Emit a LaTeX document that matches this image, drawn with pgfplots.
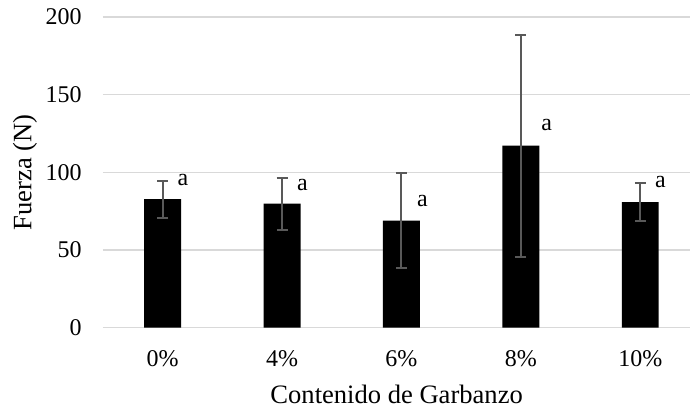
\documentclass[border=0pt]{standalone}
\usepackage{pgfplots}
\pgfplotsset{compat=1.18}
\usepackage{pgfplotstable}
\usepackage{fontspec}
\setmainfont{Liberation Serif}
\definecolor{gridgray}{HTML}{D9D9D9}
\definecolor{errgray}{HTML}{595959}
\pgfplotstableread{
x y err
0 82.8 11.9
1 79.8 16.7
2 68.9 30.5
3 117.2 71.5
4 80.9 12.2
}\datatable
\begin{document}
\fontsize{12}{14}\selectfont
\begin{tikzpicture}
\begin{axis}[
  scale only axis,
  width=294pt, height=155.5pt,
  xmin=-0.5, xmax=4.42,
  ymin=0, ymax=200,
  ytick={0,50,100,150,200},
  xtick={0,1,2,3,4},
  xticklabels={0\%,4\%,6\%,8\%,10\%},
  axis line style={draw=none},
  tick style={draw=none},
  ymajorgrids,
  major grid style={gridgray, line width=0.6pt},
  /pgf/number format/assume math mode=true,
  tick label style={font=\fontsize{12}{14}\selectfont},
  yticklabel style={xshift=-6.5pt},
  xticklabel style={yshift=-7pt},
  xlabel={Contenido de Garbanzo},
  ylabel={Fuerza (N)},
  label style={font=\fontsize{13.3}{15}\selectfont},
  xlabel style={at={(rel axis cs:0.5,0)}, anchor=center, yshift=-33.5pt},
  ylabel style={at={(rel axis cs:0,0.5)}, anchor=center, rotate=0, yshift=39pt},
  clip=false,
]
\addplot[ybar, bar width=18.5pt, fill=black, draw=none,
  error bars/.cd, y dir=both, y explicit,
  error bar style={errgray, line width=1pt},
  error mark options={errgray, line width=1pt, mark size=2.75pt, rotate=90}]
  table[x=x, y=y, y error=err] {\datatable};
\node[font=\fontsize{12}{14}\selectfont] at (axis cs:0.17,95.2) {a};
\node[font=\fontsize{12}{14}\selectfont] at (axis cs:1.17,92) {a};
\node[font=\fontsize{12}{14}\selectfont] at (axis cs:2.175,81.5) {a};
\node[font=\fontsize{12}{14}\selectfont] at (axis cs:3.217,130.3) {a};
\node[font=\fontsize{12}{14}\selectfont] at (axis cs:4.17,93.9) {a};
\coordinate (O) at (rel axis cs:0,0);
\end{axis}
\path (O) ++(-51.5pt,-39.5pt) rectangle ++(345.5pt,203.5pt);
\end{tikzpicture}
\end{document}
